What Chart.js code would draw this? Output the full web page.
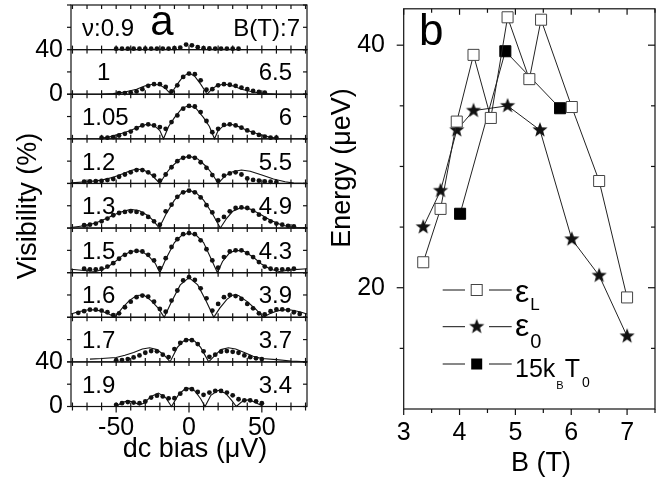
<!DOCTYPE html>
<html>
<head>
<meta charset="utf-8">
<script src="https://cdn.jsdelivr.net/npm/chart.js@4.4.1/dist/chart.umd.min.js"></script>
<style>
html, body { margin: 0; padding: 0; background: #fff; }
#wrap { position: relative; width: 671px; height: 480px; overflow: hidden; }
canvas { position: absolute; top: 0; }
#ca { left: 0; width: 320px; height: 480px; }
#cb { left: 320px; width: 351px; height: 480px; }
</style>
</head>
<body>
<div id="wrap">
  <canvas id="ca" width="320" height="480"></canvas>
  <canvas id="cb" width="351" height="480"></canvas>
</div>
<script>
// ---- panel a : visibility vs dc bias, one row per filling factor ----
const nuLabels = ['ν:0.9', '1', '1.05', '1.2', '1.3', '1.5', '1.6', '1.7', '1.9'];
const fieldLabels = ['B(T):7', '6.5', '6', '5.5', '4.9', '4.3', '3.9', '3.7', '3.4'];
const biasTicks = [-50, 0, 50];
const visTicks = [0, 40];

// measured points (bias starts at dotStart, one every dotStep uV)
const dotStep = 4;
const dotStart = [-50, -48, -60, -72, -72, -72, -76, -50, -50];
const dots = [
  [0.8,0.8,0.8,0.8,0.8,0.8,0.9,0.9,0.9,0.9,1.2,1.7,4.5,3.8,2.2,1.3,1,0.9,0.9,0.9,0.8,0.8],
  [1,1,1.5,2.5,4.5,7.5,9,9,6.5,2.5,8,15.5,18.5,18,12.5,4,4.5,8,9,8.5,7.5,6,4.5,3,2,1.5],
  [1,1,1.5,3,4.5,6.5,9.5,12,13,12,10.5,9,15,21,27,29.5,29,24,16,6,9,12.5,13,12,10,7.5,5.5,3.5,2,1,1],
  [1.5,1.8,2,2.3,3,4,6,8,10,12,12,10,7,2.5,8,14.5,20,23,24,23,19,14,7.5,2.5,7,9,10,8,4.5,3.2,2.5,1.8,1.5,1.2],
  [2.5,3,4,6,8.5,11.5,13.5,14.5,15,14.5,13,10,6,3,15,21,28,32,33.5,32,27.5,20.5,14,7,10,15,18,18.5,18,15.5,12,8.5,6,4,3,2,1.5],
  [3.5,3,3,3.5,5.5,8.5,12.5,16,18.5,19.5,19,16,11,4,13,23,30,34.5,35.5,34.5,29,21,11,4.5,14,19,20,20,17.5,14,9.5,5.5,3.5,3,3,3,3.5],
  [4,5.5,6.8,6.8,6,4.5,2,3.5,9,14,18,19.5,18.5,14,7.5,5,15,24,33,36,33.5,26,17,6,12,18,20,19,16.5,12,8,3.5,2.5,5.5,7,7,6.5,4.5,3],
  [1.5,1.6,2.5,4,5.8,8.2,9.7,9.5,6.5,4.3,11.5,17,19.5,19.5,16,9.5,4.5,6.5,9.2,9.7,9,8.2,5.8,4.2,3.2,2.5],
  [1.5,3,4,3.5,3,4.5,8,9.7,9,7.3,7.5,11.5,15.5,15.5,13,10.5,12.5,14,14,12.5,10,6.5,5.5,5.5,4.6,3]
];

// model curves, [bias, visibility]
const fits = [
  [],
  [[-60,0],[-52,0.5],[-44,2],[-36,4.5],[-30,7.5],[-25,9],[-20,8.3],[-16,5],[-12.5,0],[-8,9],[-4,16],[0,19],[4,16],[8,9],[12.5,0],[16,5],[20,8.3],[25,9],[30,7.5],[36,4.5],[44,2],[52,0.5],[60,0]],
  [[-62,0],[-54,2],[-46,5],[-40,7.5],[-35,10.5],[-29,13],[-24,12],[-20,7.5],[-17.5,0],[-14,11],[-10,19],[-5,27],[0,30],[5,27],[10,19],[14,11],[17.5,0],[20,7.5],[24,12],[29,13],[35,10.5],[40,7.5],[46,5],[54,2],[62,0]],
  [[-81,0.5],[-70,1.5],[-60,3],[-52,5.5],[-45,9],[-40,11.5],[-36,13],[-31,12],[-26,8],[-20,0],[-16,8.5],[-12,15],[-6,22],[0,24.5],[6,22],[12,15],[16,8.5],[20,0],[25,7],[30,10.5],[36,12],[42,11],[50,7.5],[58,4],[66,1.5],[72,0.3],[81,0]],
  [[-81,0.5],[-72,2],[-64,4.5],[-56,9],[-48,14],[-40,16.7],[-34,15.5],[-28,11],[-24,6],[-20.5,0],[-16,12],[-10,25],[-5,31.5],[0,34],[5,31.5],[10,25],[16,13],[21.5,0],[26,9],[30,15],[36,18.5],[42,17],[48,13],[56,7],[64,2.5],[72,0.5],[81,0]],
  [[-81,3],[-72,2],[-64,1],[-58,3.5],[-52,8.5],[-46,15],[-40,19],[-36,19.7],[-32,19],[-27,14],[-23,8],[-20,0],[-16,12],[-10,27],[-5,33.5],[0,35.5],[5,33.5],[10,27],[15,13],[19.5,0],[23,10],[28,18],[33,20],[38,19],[44,14],[50,7.5],[56,3],[62,1],[70,2.5],[81,3.5]],
  [[-81,3],[-76,5],[-70,6.5],[-65,6.8],[-60,5.5],[-55,3],[-51,0],[-46,8],[-41,15],[-36,19.5],[-31,20],[-26,15],[-21,8],[-17,0],[-12,14],[-6,29],[0,35.5],[6,29],[12,14],[17,0],[21,8],[26,16],[30,20],[34,19.5],[40,14],[46,7],[51,0],[55,3],[60,5.5],[65,6.8],[70,6.5],[76,5],[81,3]],
  [[-68,2.5],[-60,3],[-50,4],[-44,6],[-38,8.5],[-32,11.5],[-27,12.7],[-22,11],[-17,6],[-13,0],[-8,13],[-4,18.5],[0,20],[4,18.5],[8,13],[13.5,0],[18,6],[22,11],[27,12.7],[32,11.5],[38,8.5],[44,5],[50,3],[60,2],[70,0.8],[81,0]],
  [[-50,0],[-46,3.5],[-42,5],[-38,4],[-34,1.5],[-31,3],[-26,9],[-21,12],[-16,8],[-12,0],[-7,11],[-3,15.5],[0,16.5],[4,14],[8,7],[11,0],[15,10],[20,14.5],[25,12],[29,6],[32.5,0],[36,4],[40,6],[44,4.5],[48,2],[51,0]]
];

// ---- panel b : energies vs field ----
const fieldL = [3.35, 3.66, 3.95, 4.25, 4.56, 4.86, 5.25, 5.46, 6.01, 6.5, 7.0];
const epsL   = [22.1, 26.5, 33.7, 39.2, 34.0, 42.3, 37.2, 42.1, 34.9, 28.8, 19.2];
const field0 = [3.35, 3.66, 3.95, 4.25, 4.86, 5.44, 6.01, 6.5, 7.0];
const eps0   = [25.0, 28.0, 33.0, 34.6, 35.0, 33.0, 24.0, 21.0, 16.0];
const fieldT = [4.01, 4.82, 5.8];
const kT0    = [26.1, 39.5, 34.8];
const fieldTicks = [3, 4, 5, 6, 7];
const energyTicks = [20, 40];

const FONT = '"Liberation Sans", Arial, sans-serif';
const INK = '#111';
Chart.defaults.font.family = FONT;
Chart.defaults.color = '#000';

function font(px) { return px + 'px ' + FONT; }
function text(ctx, s, x, y, px, align) {
  ctx.font = font(px);
  ctx.textAlign = align || 'left';
  ctx.textBaseline = 'alphabetic';
  ctx.fillText(s, x, y);
  return x + ctx.measureText(s).width;
}
function fixTicks(vals) {
  return function(scale) { scale.ticks = vals.map(v => ({value: v})); };
}
function noPad(scale) {
  scale.paddingTop = 0; scale.paddingBottom = 0;
  scale.paddingLeft = 0; scale.paddingRight = 0;
}
function line(ctx, x1, y1, x2, y2) {
  ctx.beginPath(); ctx.moveTo(x1, y1); ctx.lineTo(x2, y2); ctx.stroke();
}

function makeStar(r) {
  const c = document.createElement('canvas');
  c.width = c.height = 2 * r + 2;
  const g = c.getContext('2d');
  g.translate(r + 1, r + 1);
  g.beginPath();
  for (let k = 0; k < 10; k++) {
    const a = -Math.PI / 2 + k * Math.PI / 5;
    const rad = k % 2 ? r * 0.42 : r;
    g.lineTo(Math.cos(a) * rad, Math.sin(a) * rad);
  }
  g.closePath();
  g.fillStyle = INK;
  g.fill();
  return c;
}
const star = makeStar(8);

// ---------------- chart a ----------------
const dsA = [];
dots.forEach(function(vals, i) {
  dsA.push({
    data: vals.map((v, j) => ({x: dotStart[i] + dotStep * j, y: v})),
    yAxisID: 'y' + i,
    showLine: false,
    pointRadius: 2.4,
    pointBackgroundColor: INK,
    pointBorderWidth: 0,
    clip: false
  });
  if (fits[i].length) {
    dsA.push({
      data: fits[i].map(p => ({x: p[0], y: p[1]})),
      yAxisID: 'y' + i,
      showLine: true,
      pointRadius: 0,
      borderColor: INK,
      borderWidth: 1.1,
      tension: 0,
      clip: false
    });
  }
});

const scalesA = {
  x: {
    type: 'linear', position: 'bottom', min: -81, max: 81,
    afterBuildTicks: fixTicks(biasTicks),
    afterFit: function(s) { s.height = 73.5; noPad(s); },
    grid: {display: false, drawTicks: false}, border: {display: false},
    ticks: {font: {size: 25}, padding: 7, maxRotation: 0, autoSkip: false,
            callback: v => String(v)}
  }
};
for (let i = 8; i >= 0; i--) {
  scalesA['y' + i] = {
    type: 'linear', position: 'left', stack: 'vis', stackWeight: 1,
    min: 0, max: 40,
    afterBuildTicks: fixTicks(visTicks),
    afterFit: function(s) { s.width = 71; noPad(s); },
    grid: {display: false, drawTicks: false}, border: {display: false},
    ticks: {display: i === 1 || i === 8, font: {size: 25}, padding: 8, autoSkip: false,
            callback: v => String(v)}
  };
}

const framesA = {
  id: 'framesA',
  afterDatasetsDraw(chart) {
    const ctx = chart.ctx, area = chart.chartArea, xs = chart.scales.x;
    ctx.save();
    ctx.strokeStyle = INK;
    ctx.fillStyle = '#000';
    ctx.lineWidth = 1.2;
    for (let i = 0; i < 9; i++) {
      const ys = chart.scales['y' + i];
      const top = ys.top, bot = ys.bottom;
      ctx.strokeRect(area.left, top, area.right - area.left, bot - top);
      for (let v = -80; v <= 80; v += 10) {
        const px = xs.getPixelForValue(v);
        line(ctx, px, top, px, top + 4);
        line(ctx, px, bot, px, bot - 4);
        if (i === 8) line(ctx, px, bot, px, bot + (v % 50 === 0 ? 6 : 4));
      }
      for (const v of [0, 20, 40]) {
        const py = ys.getPixelForValue(v);
        line(ctx, area.left - 4, py, area.left, py);
        line(ctx, area.right - 4, py, area.right, py);
      }
      const mid = (top + bot) / 2 + 8.5;
      text(ctx, nuLabels[i], i === 1 ? 97 : 82, mid, 24, 'left');
      text(ctx, fieldLabels[i], i === 0 ? 300 : 292, mid, 24, 'right');
    }
    text(ctx, 'a', 162, 35, 42, 'center');
    text(ctx, 'dc bias (μV)', 195, 457, 27, 'center');
    ctx.translate(36, 206);
    ctx.rotate(-Math.PI / 2);
    text(ctx, 'Visibility (%)', 0, 0, 27, 'center');
    ctx.restore();
  }
};

new Chart(document.getElementById('ca'), {
  type: 'scatter',
  data: {datasets: dsA},
  options: {
    responsive: false, animation: false,
    layout: {padding: {top: 5, right: 13, left: 0, bottom: 0}},
    plugins: {legend: {display: false}, tooltip: {enabled: false}},
    scales: scalesA
  },
  plugins: [framesA]
});

// ---------------- chart b ----------------
const framesB = {
  id: 'framesB',
  afterDatasetsDraw(chart) {
    const ctx = chart.ctx, a = chart.chartArea;
    const xs = chart.scales.x, ys = chart.scales.y;
    ctx.save();
    ctx.strokeStyle = INK;
    ctx.fillStyle = '#000';
    ctx.lineWidth = 1.2;
    ctx.strokeRect(a.left, a.top, a.right - a.left, a.bottom - a.top);
    for (let v = 3; v <= 7.5; v += 0.5) {
      const px = xs.getPixelForValue(v);
      const major = v % 1 === 0;
      line(ctx, px, a.bottom, px, a.bottom + (major ? 6 : 4));
      line(ctx, px, a.top, px, a.top + (major ? 6 : 4));
    }
    for (let v = 15; v <= 40; v += 5) {
      const py = ys.getPixelForValue(v);
      const major = v % 20 === 0;
      line(ctx, a.left - (major ? 7 : 4), py, a.left, py);
      line(ctx, a.right - (major ? 7 : 4), py, a.right, py);
    }
    text(ctx, 'b', 99, 45, 44, 'left');
    text(ctx, 'B (T)', 221, 470.5, 27, 'center');

    // legend
    ctx.lineWidth = 1;
    const rows = [290, 326.7, 364];
    for (const y of rows) {
      line(ctx, 122.7, y, 145, y);
      line(ctx, 169, y, 191.7, y);
    }
    ctx.fillStyle = '#fff';
    ctx.strokeStyle = '#444';
    ctx.fillRect(151.2, rows[0] - 5.5, 11, 11);
    ctx.strokeRect(151.2, rows[0] - 5.5, 11, 11);
    ctx.drawImage(star, 156.7 - star.width / 2, rows[1] - star.height / 2);
    ctx.fillStyle = '#000';
    ctx.fillRect(151.2, rows[2] - 5.5, 11, 11);

    let x = text(ctx, 'ε', 195, 302, 32, 'left');
    text(ctx, 'L', x + 1, 310, 17, 'left');
    x = text(ctx, 'ε', 195, 336, 32, 'left');
    text(ctx, '0', x + 1, 348.3, 20, 'left');
    x = text(ctx, '15k', 195, 376.7, 25, 'left');
    x = text(ctx, 'B', x + 1, 389, 11, 'left');
    x = text(ctx, 'T', x + 1, 376.7, 25, 'left');
    text(ctx, '0', x + 2, 386.7, 14, 'left');

    ctx.translate(30, 168);
    ctx.rotate(-Math.PI / 2);
    text(ctx, 'Energy (μeV)', 0, 0, 27, 'center');
    ctx.restore();
  }
};

function pts(xs, ys) { return xs.map((x, i) => ({x: x, y: ys[i]})); }

new Chart(document.getElementById('cb'), {
  type: 'scatter',
  data: {
    datasets: [
      {label: 'εL', data: pts(fieldL, epsL), showLine: true, borderColor: '#222', borderWidth: 1,
       pointStyle: 'rect', pointRadius: 7.8, pointBackgroundColor: '#fff',
       pointBorderColor: '#444', pointBorderWidth: 1, clip: false},
      {label: 'ε0', data: pts(field0, eps0), showLine: true, borderColor: '#222', borderWidth: 1,
       pointStyle: star, pointRadius: 7, clip: false},
      {label: '15kBT0', data: pts(fieldT, kT0), showLine: true, borderColor: '#222', borderWidth: 1,
       pointStyle: 'rect', pointRadius: 7.8, pointBackgroundColor: '#000',
       pointBorderColor: '#000', pointBorderWidth: 1, clip: false}
    ]
  },
  options: {
    responsive: false, animation: false,
    layout: {padding: {top: 5, right: 16, left: 0, bottom: 0}},
    plugins: {legend: {display: false}, tooltip: {enabled: false}},
    scales: {
      x: {type: 'linear', min: 3, max: 7.5,
          afterBuildTicks: fixTicks(fieldTicks),
          afterFit: function(s) { s.height = 71; noPad(s); },
          grid: {display: false, drawTicks: false}, border: {display: false},
          ticks: {font: {size: 25}, padding: 9, maxRotation: 0, autoSkip: false,
                  callback: v => String(v)}},
      y: {type: 'linear', min: 10, max: 43,
          afterBuildTicks: fixTicks(energyTicks),
          afterFit: function(s) { s.width = 83.7; noPad(s); },
          grid: {display: false, drawTicks: false}, border: {display: false},
          ticks: {font: {size: 25}, padding: 18.7, autoSkip: false,
                  callback: v => String(v)}}
    }
  },
  plugins: [framesB]
});
</script>
</body>
</html>
